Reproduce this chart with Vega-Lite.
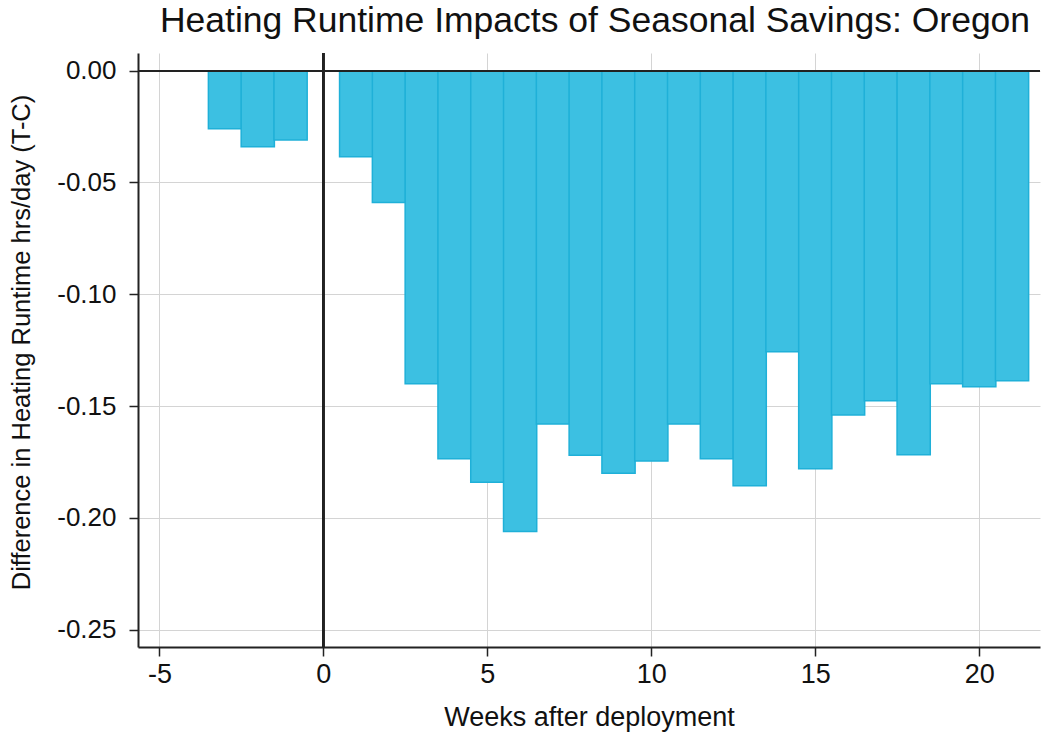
{
  "$schema": "https://vega.github.io/schema/vega-lite/v6.json",
  "width": 902,
  "height": 594,
  "autosize": {"type": "none"},
  "padding": {"left": 138, "top": 53, "right": 4, "bottom": 87},
  "background": "white",
  "title": {
    "text": "Heating Runtime Impacts of Seasonal Savings: Oregon",
    "font": "Liberation Sans",
    "fontSize": 35.5,
    "fontWeight": "normal",
    "color": "#111111",
    "anchor": "middle",
    "offset": 13,
    "dx": 6
  },
  "config": {
    "view": {"stroke": null},
    "axis": {
      "labelFont": "Liberation Sans",
      "titleFont": "Liberation Sans",
      "labelColor": "#111111",
      "titleColor": "#111111",
      "titleFontWeight": "normal",
      "domainColor": "#222222",
      "domainWidth": 2,
      "tickColor": "#222222",
      "tickWidth": 1.5,
      "tickSize": 9,
      "gridColor": "#d4d4d4",
      "gridWidth": 1
    }
  },
  "data": {
    "values": [
      {"week": -3, "value": -0.026},
      {"week": -2, "value": -0.034},
      {"week": -1, "value": -0.031},
      {"week": 1, "value": -0.0385},
      {"week": 2, "value": -0.059},
      {"week": 3, "value": -0.140},
      {"week": 4, "value": -0.1735},
      {"week": 5, "value": -0.184},
      {"week": 6, "value": -0.206},
      {"week": 7, "value": -0.158},
      {"week": 8, "value": -0.172},
      {"week": 9, "value": -0.180},
      {"week": 10, "value": -0.1745},
      {"week": 11, "value": -0.158},
      {"week": 12, "value": -0.1735},
      {"week": 13, "value": -0.1856},
      {"week": 14, "value": -0.1257},
      {"week": 15, "value": -0.178},
      {"week": 16, "value": -0.154},
      {"week": 17, "value": -0.1476},
      {"week": 18, "value": -0.1717},
      {"week": 19, "value": -0.140},
      {"week": 20, "value": -0.1413},
      {"week": 21, "value": -0.1386}
    ]
  },
  "layer": [
    {
      "mark": {"type": "bar", "width": 33.2, "color": "#3cc0e2", "stroke": "#1fb0d8", "strokeWidth": 1.5},
      "encoding": {
        "x": {
          "field": "week",
          "type": "quantitative",
          "scale": {"domain": [-5.5, 21.7], "nice": false, "zero": false},
          "axis": {
            "values": [-5, 0, 5, 10, 15, 20],
            "title": "Weeks after deployment",
            "titleFontSize": 27,
            "titlePadding": 17,
            "labelFontSize": 27,
            "labelPadding": 5,
            "labelExpr": "replace(datum.label, '\u2212', '-')"
          }
        },
        "y": {
          "field": "value",
          "type": "quantitative",
          "stack": null,
          "scale": {"domain": [-0.2577, 0.0079], "nice": false},
          "axis": {
            "values": [0, -0.05, -0.1, -0.15, -0.2, -0.25],
            "title": "Difference in Heating Runtime hrs/day (T-C)",
            "titleFontSize": 25.5,
            "titlePadding": 22,
            "titleY": 289,
            "labelFontSize": 26,
            "labelPadding": 13,
            "labelExpr": "replace(format(datum.value, '.2f'), '\u2212', '-')"
          }
        }
      }
    },
    {
      "mark": {"type": "rule", "color": "#222222", "strokeWidth": 1.5},
      "encoding": {"y": {"datum": 0}}
    },
    {
      "mark": {"type": "rule", "color": "#222222", "strokeWidth": 1.5},
      "encoding": {"x": {"datum": 0}}
    }
  ]
}
